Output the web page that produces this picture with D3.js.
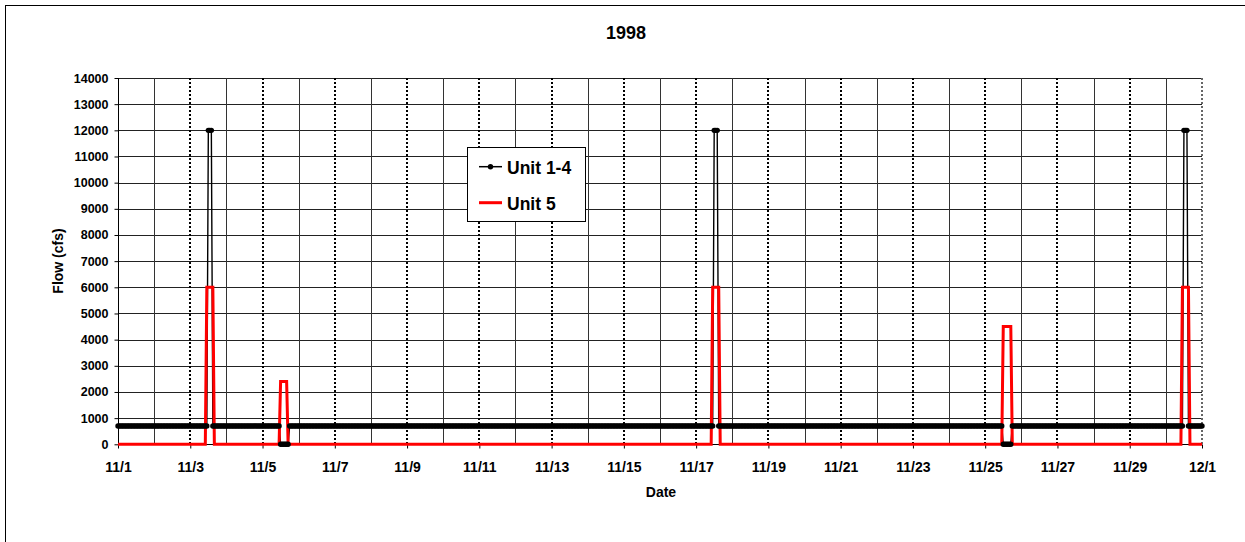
<!DOCTYPE html>
<html>
<head>
<meta charset="utf-8">
<script src="https://cdn.jsdelivr.net/npm/d3@7"></script>
<style>
  html, body { margin: 0; padding: 0; background: #fff; }
  svg { display: block; }
  text { font-family: "Liberation Sans", Arial, sans-serif; font-weight: bold; fill: #000; }
</style>
</head>
<body>
<svg id="chart" width="1245" height="542"></svg>
<script>
// ---- data (hourly readings, November 1998, stored as runs: value + number of hours) ----
const chartTitle = "1998";
const xAxisTitle = "Date";
const yAxisTitle = "Flow (cfs)";
const seriesNames = ["Unit 1-4", "Unit 5"];
const unit14RunValues = [700, 12000, 700, 0, 700, 12000, 700, 0, 700, 12000, 700];
const unit14RunHours  = [60,  3,     45,  6, 282, 3,     189, 6, 114, 3,     10];
const unit5RunValues  = [0,  6000, 0,  2400, 0,   6000, 0,   4500, 0,   6000, 0];
const unit5RunHours   = [59, 5,    44, 5,    282, 5,    188, 6,    113, 5,    9];
const yTickValues = [0,1000,2000,3000,4000,5000,6000,7000,8000,9000,10000,11000,12000,13000,14000];
const xTickLabels = ["11/1","11/3","11/5","11/7","11/9","11/11","11/13","11/15","11/17","11/19","11/21","11/23","11/25","11/27","11/29","12/1"];

(function () {
// ---- build point tables from runs ----
const startMs = Date.UTC(1998, 10, 1);
const HOUR = 3600 * 1000;
function expandRuns(vals, counts) {
  const pts = [];
  let h = 0;
  vals.forEach((v, i) => {
    for (let k = 0; k < counts[i]; k++) { pts.push({ t: new Date(startMs + h * HOUR), v }); h++; }
  });
  return pts;
}
const unit14 = expandRuns(unit14RunValues, unit14RunHours);
const unit5 = expandRuns(unit5RunValues, unit5RunHours);

// ---- layout ----
const svg = d3.select("#chart");
const pL = 118, pR = 1202, pT = 78, pB = 444.3;

const x = d3.scaleUtc()
  .domain([new Date(startMs), new Date(Date.UTC(1998, 11, 1))])
  .range([pL, pR]);
const y = d3.scaleLinear().domain([0, 14000]).range([pB, pT]);

// outer chart border (only left/top visible in the frame)
svg.append("rect")
  .attr("x", 5.5).attr("y", 5.5).attr("width", 1260).attr("height", 560)
  .attr("fill", "#fff").attr("stroke", "#000").attr("stroke-width", 1);

// horizontal gridlines
svg.append("g").selectAll("line")
  .data(yTickValues.filter(d => d > 0))
  .join("line")
  .attr("x1", pL).attr("x2", pR)
  .attr("y1", d => Math.round(y(d)) + 0.5).attr("y2", d => Math.round(y(d)) + 0.5)
  .attr("stroke", "#222").attr("stroke-width", 1);

// vertical gridlines: every day; labelled (odd) days dotted, others solid
const dayTicks = d3.utcDay.range(new Date(startMs + 1), new Date(Date.UTC(1998, 11, 1, 1)));
const labelDates = xTickLabels.map((_, i) => new Date(startMs + i * 2 * 24 * HOUR));
svg.append("g").selectAll("line")
  .data(dayTicks.filter((d, i) => i % 2 === 0))
  .join("line")
  .attr("x1", d => Math.round(x(d)) + 0.5).attr("x2", d => Math.round(x(d)) + 0.5)
  .attr("y1", pT).attr("y2", pB)
  .attr("stroke", "#333").attr("stroke-width", 1);
svg.append("g").selectAll("line")
  .data(labelDates.slice(1))
  .join("line")
  .attr("x1", d => Math.round(x(d))).attr("x2", d => Math.round(x(d)))
  .attr("y1", pT).attr("y2", pB)
  .attr("stroke", (d, i, n) => i === n.length - 1 ? "#666" : "#000")
  .attr("stroke-width", 2)
  .attr("stroke-dasharray", "2,2");

// y axis
const yAxis = d3.axisLeft(y).tickValues(yTickValues).tickSize(4).tickPadding(6).tickFormat(d3.format("d"));
const gy = svg.append("g").attr("transform", `translate(${pL + 0.5},0)`).call(yAxis);
gy.select(".domain").attr("stroke", "#000").attr("d", `M0,${pT}V${pB}`);
gy.selectAll(".tick line").attr("stroke", "#000");
gy.selectAll(".tick text").attr("font-size", "12.5px").attr("font-family", "Liberation Sans, Arial, sans-serif").attr("font-weight", "bold").attr("fill", "#000");

// x axis
const xAxis = d3.axisBottom(x).tickValues(labelDates).tickSize(4).tickPadding(14)
  .tickFormat((d, i) => xTickLabels[i]);
const gx = svg.append("g").attr("transform", `translate(0,${Math.round(pB) + 0.5})`).call(xAxis);
gx.select(".domain").attr("stroke", "#000").attr("d", `M${pL},0H${pR}`);
gx.selectAll(".tick line").attr("stroke", "#000");
gx.selectAll(".tick text").attr("font-size", "14px").attr("font-family", "Liberation Sans, Arial, sans-serif").attr("font-weight", "bold").attr("fill", "#000");

// series lines
const line = d3.line().x(d => x(d.t)).y(d => y(d.v));
svg.append("path").datum(unit14)
  .attr("d", line).attr("fill", "none").attr("stroke", "#000").attr("stroke-width", 1.4);
svg.append("path").datum(unit5)
  .attr("d", line).attr("fill", "none").attr("stroke", "#ff0000").attr("stroke-width", 3)
  .attr("stroke-linejoin", "miter");
// Unit 1-4 markers
svg.append("g").selectAll("circle")
  .data(unit14)
  .join("circle")
  .attr("cx", d => x(d.t)).attr("cy", d => y(d.v)).attr("r", 2.7)
  .attr("fill", "#000");

// legend
const lg = svg.append("g");
lg.append("rect").attr("x", 467.5).attr("y", 147.5).attr("width", 118).attr("height", 74)
  .attr("fill", "#fff").attr("stroke", "#000").attr("stroke-width", 1);
lg.append("line").attr("x1", 479).attr("x2", 502).attr("y1", 166.7).attr("y2", 166.7)
  .attr("stroke", "#000").attr("stroke-width", 1.5);
lg.append("circle").attr("cx", 490.5).attr("cy", 166.7).attr("r", 2.7).attr("fill", "#000");
lg.append("line").attr("x1", 479).attr("x2", 502).attr("y1", 202.7).attr("y2", 202.7)
  .attr("stroke", "#ff0000").attr("stroke-width", 3);
lg.append("text").attr("x", 507).attr("y", 173.5).attr("font-size", "17.5px").text(seriesNames[0]);
lg.append("text").attr("x", 507).attr("y", 209.5).attr("font-size", "17.5px").text(seriesNames[1]);

// titles
svg.append("text").attr("x", 626).attr("y", 39).attr("text-anchor", "middle")
  .attr("font-size", "18px").text(chartTitle);
svg.append("text").attr("x", 661).attr("y", 497).attr("text-anchor", "middle")
  .attr("font-size", "14px").text(xAxisTitle);
svg.append("text").attr("transform", "translate(63,261) rotate(-90)").attr("text-anchor", "middle")
  .attr("font-size", "14px").text(yAxisTitle);
})();
</script>
</body>
</html>
